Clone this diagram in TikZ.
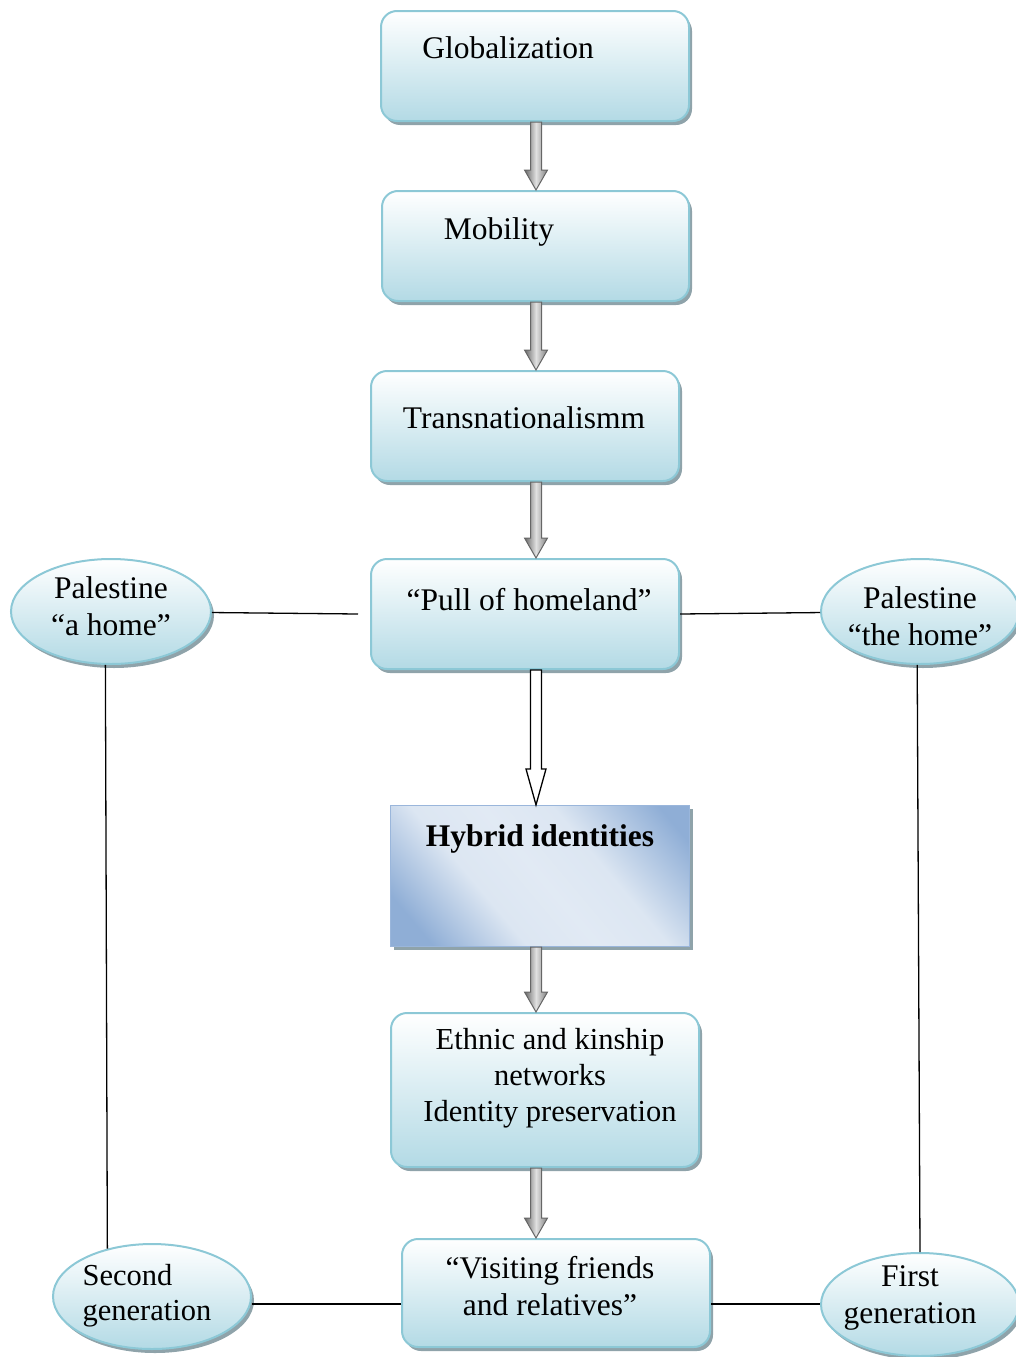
\documentclass[tikz,border=0pt]{standalone}
\usepackage{fontspec}
\setmainfont{Liberation Serif}
\usetikzlibrary{shadows,calc,shapes.geometric}

\definecolor{boxedge}{HTML}{8CC8D6}
\definecolor{boxfill}{HTML}{B3DAE5}
\definecolor{shadowc}{HTML}{8FA3AA}
\definecolor{hybblue}{HTML}{8FAED6}
\definecolor{hyblight}{HTML}{DCE6F2}
\definecolor{hybedge}{HTML}{9AB6DB}

\pgfdeclarehorizontalshading{hybshade}{100bp}{%
  color(0bp)=(hybblue); color(22bp)=(hybblue); color(38bp)=(hyblight);
  color(50bp)=(hyblight!85!white); color(62bp)=(hyblight); color(80bp)=(hybblue);
  color(100bp)=(hybblue)}

\tikzset{
  flowbox/.style={draw=boxedge, line width=2pt, rounded corners=16pt,
    top color=white, bottom color=boxfill, inner sep=0pt,
    drop shadow={shadow xshift=3pt, shadow yshift=-4pt, fill=shadowc, opacity=1}},
  hybbox/.style={draw=hybedge, line width=1.2pt, shading=hybshade, shading angle=40,
    inner sep=0pt,
    drop shadow={shadow xshift=3pt, shadow yshift=-3pt, fill=shadowc, opacity=1}},
  oval/.style={ellipse, draw=boxedge, line width=2pt,
    top color=white, bottom color=boxfill, inner sep=0pt,
    drop shadow={shadow xshift=3pt, shadow yshift=-4pt, fill=shadowc, opacity=1}},
  lbl/.style={inner sep=0pt, font=\fontsize{31.5}{36.5}\selectfont, align=center},
  grayarr/.style={draw=black!60, line width=1pt, left color=black!60,
    right color=black!50, middle color=black!12},
  openarr/.style={draw=black, line width=1.3pt, fill=white},
  link/.style={draw=black, line width=1.3pt}
}

% grey block arrow from #1 down to #2 (same x)
\newcommand\blockdown[2]{%
  \path[grayarr] let \p1=(#1), \p2=(#2) in
    (\x1-5.5pt,\y1) -- (\x1+5.5pt,\y1) -- (\x1+5.5pt,\y2+20pt) -- (\x1+11.5pt,\y2+20pt)
    -- (\x1,\y2) -- (\x1-11.5pt,\y2+20pt) -- (\x1-5.5pt,\y2+20pt) -- cycle;}

\begin{document}
\begin{tikzpicture}[x=1pt, y=-1pt]
\useasboundingbox (0,0) rectangle (1016,1357);

% main column
\node[flowbox, minimum width=308pt, minimum height=110pt] (glob) at (535,66) {};
\node[flowbox, minimum width=307pt, minimum height=110pt] (mob) at (535.5,246) {};
\node[flowbox, minimum width=308pt, minimum height=110pt] (trans) at (525,426) {};
\node[flowbox, minimum width=308pt, minimum height=110pt] (pull) at (525,614) {};
\node[hybbox, minimum width=299pt, minimum height=141pt] (hyb) at (540,876) {};
\node[flowbox, minimum width=308pt, minimum height=154pt] (kin) at (545,1090) {};
\node[flowbox, minimum width=308pt, minimum height=108pt] (vis) at (556,1293) {};

\node[lbl] (globt) at (508,48) {Globalization};
\node[lbl] (mobt) at (499,232) {Mobility};
\node[lbl] (transt) at (524,418) {Transnationalismm};
\node[lbl] (pullt) at (529,600) {“Pull of homeland”};
\node[lbl, font=\fontsize{31.5}{36.5}\selectfont\bfseries] (hybt) at (540,839) {Hybrid identities};
\node[lbl, font=\fontsize{30.5}{36}\selectfont] (kint) at (550,1078) {Ethnic and kinship\\networks\\Identity preservation};
\node[lbl] (vist) at (550,1286) {“Visiting friends\\and relatives”};

% side ovals
\node[oval, minimum width=200pt, minimum height=105pt] (pa) at (111,611.5) {};
\node[oval, minimum width=198pt, minimum height=105pt] (ph) at (920,611.5) {};
\node[oval, minimum width=198pt, minimum height=105pt] (sg) at (152,1296.5) {};
\node[oval, minimum width=198pt, minimum height=103pt] (fg) at (920,1304.5) {};

\node[lbl] (pat) at (111,606) {Palestine\\“a home”};
\node[lbl] (pht) at (920,616) {Palestine\\“the home”};
\node[lbl, align=left, font=\fontsize{30.5}{35}\selectfont] (sgt) at (147,1296) {Second\\generation};
\node[lbl] (fgt) at (910,1298) {First\\generation};

% arrows along the column
\coordinate (ax) at (536,0);
\blockdown{glob.south -| ax}{mob.north -| ax}
\blockdown{mob.south -| ax}{trans.north -| ax}
\blockdown{trans.south -| ax}{pull.north -| ax}
\blockdown{hyb.south -| ax}{kin.north -| ax}
\blockdown{kin.south -| ax}{vis.north -| ax}
\path[openarr] let \p1=(pull.south -| ax), \p2=(hyb.north -| ax) in
  (\x1-5.5pt,\y1) -- (\x1+5.5pt,\y1) -- (\x1+5.5pt,\y2+36pt) -- (\x1+10pt,\y2+36pt)
  -- (\x1,\y2) -- (\x1-10pt,\y2+36pt) -- (\x1-5.5pt,\y2+36pt) -- cycle;

% plain links
\coordinate (pl) at (358,614);
\draw[link] (pl) -- (pa);
\draw[link] (pull.east) -- (ph);
\draw[link] (pa.-96) -- (sg.133);
\draw[link] (ph.-93) -- (fg.north);
\path (vis.west) ++(0,11) coordinate (vl);
\path (vis.east) ++(0,11) coordinate (vr);
\draw[link] (vl) -- (vl -| sg.east);
\draw[link] (vr) -- (vr -| fg.west);
\end{tikzpicture}
\end{document}
